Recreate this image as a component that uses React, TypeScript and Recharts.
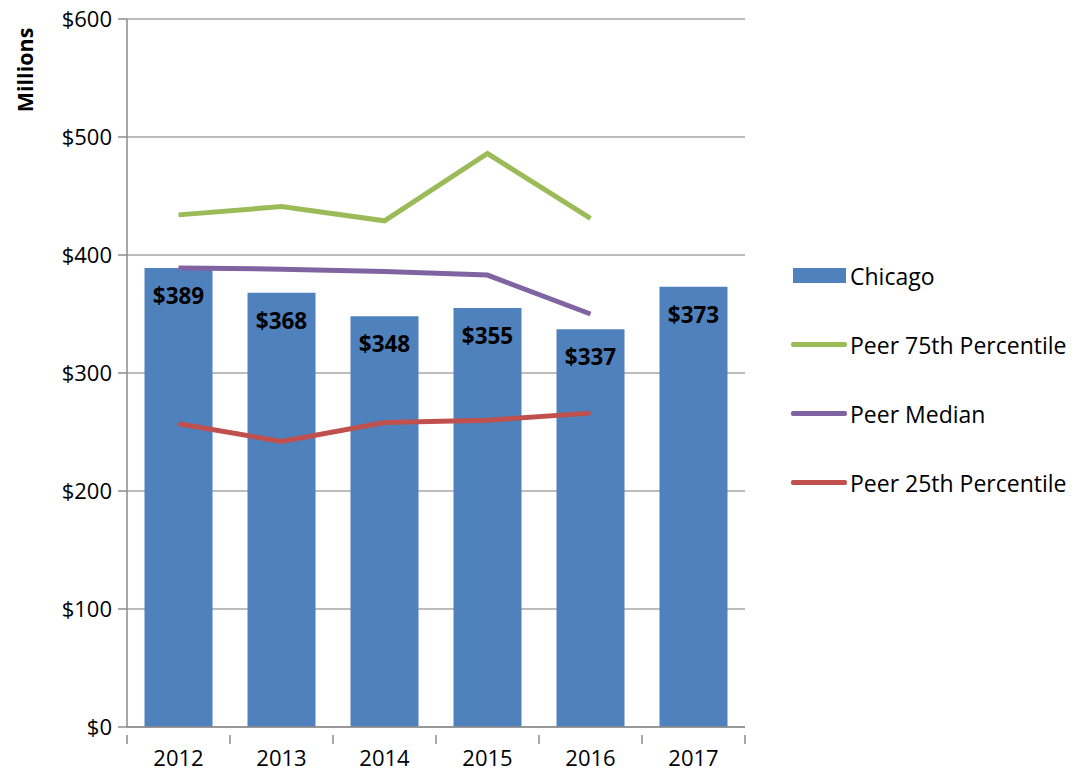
import React from 'react';
import {
  ComposedChart,
  Bar,
  Line,
  XAxis,
  YAxis,
  CartesianGrid,
  LabelList,
} from 'recharts';

// Fiscal years shown on the x axis
const years = ['2012', '2013', '2014', '2015', '2016', '2017'];

// Chicago spending, $ millions
const chicago = [389, 368, 348, 355, 337, 373];

// Peer group lines (no peer data for 2017)
const peer75 = [434, 441, 429, 486, 431, null];
const peerMedian = [389, 388, 386, 383, 350, null];
const peer25 = [257, 242, 258, 260, 266, null];

const yTicks = [0, 100, 200, 300, 400, 500, 600];

const COLORS = {
  chicago: '#4F81BD',
  p75: '#9BBB59',
  median: '#8064A2',
  p25: '#C0504D',
  axis: '#8C8C8C',
  grid: '#A6A6A6',
};

const FONT = '"Open Sans", sans-serif';

const data = years.map((year, i) => ({
  year,
  chicago: chicago[i],
  p75: peer75[i],
  median: peerMedian[i],
  p25: peer25[i],
}));

const legendItems = [
  { name: 'Chicago', color: COLORS.chicago, kind: 'bar' },
  { name: 'Peer 75th Percentile', color: COLORS.p75, kind: 'line' },
  { name: 'Peer Median', color: COLORS.median, kind: 'line' },
  { name: 'Peer 25th Percentile', color: COLORS.p25, kind: 'line' },
];

// legend sits in the right margin, outside the chart's layout
function ChartLegend() {
  return (
    <div
      style={{
        position: 'absolute',
        left: 791,
        top: 241,
        fontFamily: FONT,
        fontSize: 23,
        color: '#000',
        whiteSpace: 'nowrap',
      }}
    >
      {legendItems.map((item) => (
        <div key={item.name} style={{ display: 'flex', alignItems: 'center', height: 69 }}>
          {item.kind === 'bar' ? (
            <div style={{ width: 53, height: 15, background: item.color, marginLeft: 2, marginRight: 4 }} />
          ) : (
            <div style={{ width: 56, height: 4.5, borderRadius: 2, background: item.color, marginRight: 3 }} />
          )}
          <span>{item.name}</span>
        </div>
      ))}
    </div>
  );
}

// x tick: year label, with tick marks on the category boundaries
function YearTick(props: any) {
  const { x, y, payload, index } = props;
  const half = payload.offset ?? 51.5;
  return (
    <g>
      <line x1={x - half} y1={y} x2={x - half} y2={y + 9} stroke={COLORS.axis} strokeWidth={1.5} />
      {index === years.length - 1 && (
        <line x1={x + half} y1={y} x2={x + half} y2={y + 9} stroke={COLORS.axis} strokeWidth={1.5} />
      )}
      <text x={x} y={y + 31} textAnchor="middle" fontFamily={FONT} fontSize={22} fill="#000">
        {payload.value}
      </text>
    </g>
  );
}

export default function App() {
  return (
    <div style={{ position: 'absolute', left: 0, top: 0, width: 1074, height: 771, background: '#fff' }}>
      <ComposedChart
        width={1074}
        height={771}
        data={data}
        margin={{ top: 19, right: 329, left: 0, bottom: 0 }}
        barCategoryGap="17%"
      >
        <CartesianGrid vertical={false} stroke={COLORS.grid} strokeWidth={1.5} />
        <XAxis
          dataKey="year"
          height={44}
          axisLine={{ stroke: COLORS.axis, strokeWidth: 1.5 }}
          tickLine={false}
          tick={<YearTick />}
          interval={0}
        />
        <YAxis
          width={127}
          domain={[0, 600]}
          ticks={yTicks}
          tickFormatter={(v: number) => `$${v}`}
          axisLine={{ stroke: COLORS.axis, strokeWidth: 1.5 }}
          tickLine={{ stroke: COLORS.axis, strokeWidth: 1.5 }}
          tickSize={9}
          tickMargin={6}
          tick={{ fill: '#000', fontSize: 22, fontFamily: FONT }}
          label={{
            content: () => (
              <text
                x={0}
                y={0}
                transform="translate(33, 70) rotate(-90)"
                textAnchor="middle"
                fontFamily={FONT}
                fontWeight="bold"
                fontSize={21.5}
                fill="#000"
              >
                Millions
              </text>
            ),
          }}
        />
        <Bar dataKey="chicago" name="Chicago" fill={COLORS.chicago} isAnimationActive={false}>
          <LabelList
            dataKey="chicago"
            position="insideTop"
            offset={20}
            formatter={(v: any) => `$${v}`}
            style={{ fontFamily: FONT, fontWeight: 'bold', fontSize: 22.5, fill: '#000' }}
          />
        </Bar>
        <Line
          dataKey="p75"
          name="Peer 75th Percentile"
          stroke={COLORS.p75}
          strokeWidth={5}
          dot={false}
          type="linear"
          isAnimationActive={false}
        />
        <Line
          dataKey="median"
          name="Peer Median"
          stroke={COLORS.median}
          strokeWidth={5}
          dot={false}
          type="linear"
          isAnimationActive={false}
        />
        <Line
          dataKey="p25"
          name="Peer 25th Percentile"
          stroke={COLORS.p25}
          strokeWidth={5}
          dot={false}
          type="linear"
          isAnimationActive={false}
        />
      </ComposedChart>
      <ChartLegend />
    </div>
  );
}
